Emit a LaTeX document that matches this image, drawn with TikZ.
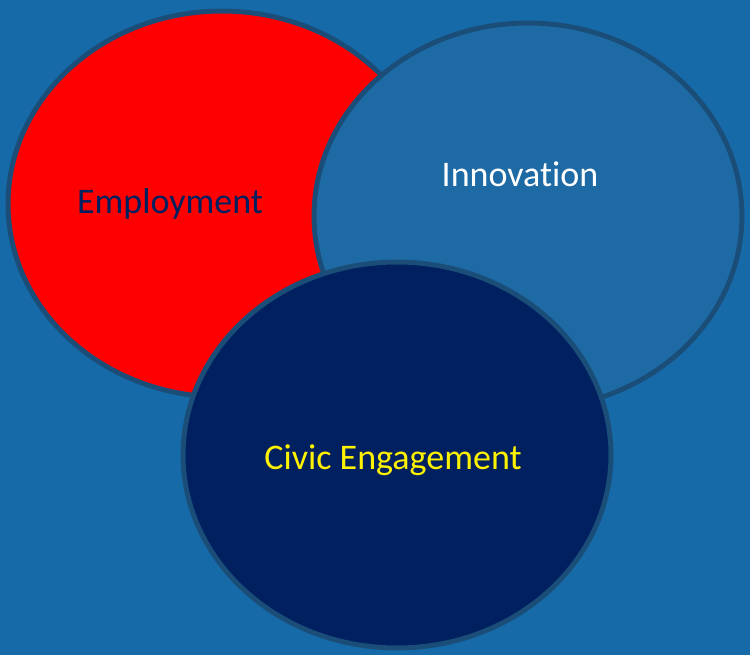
\documentclass[tikz,border=0pt]{standalone}
\usepackage{fontspec}
\setmainfont{Carlito}[Ligatures=NoCommon]
\usetikzlibrary{shapes.geometric}
\definecolor{slideblue}{RGB}{23, 106, 168}
\definecolor{innoblue}{RGB}{30, 106, 164}
\definecolor{rimblue}{RGB}{26, 78, 120}
\definecolor{navyblue}{RGB}{0, 32, 96}
\definecolor{brightred}{RGB}{255, 0, 0}

\begin{document}
\begin{tikzpicture}[x=0.02cm, y=-0.02cm,
    bubble/.style={draw=rimblue, line width=2.8pt, ellipse, inner sep=0pt,
      minimum width=8.56cm, minimum height=7.72cm},
    caption/.style={anchor=base, font=\fontsize{20.5}{24}\selectfont}]
    \fill[slideblue] (0,0) rectangle (750,655);
    \useasboundingbox (0,0) rectangle (750,655);

    \node[bubble, fill=brightred] (employ) at (222,204) {};
    \node[bubble, fill=innoblue] (innov) at (528,216) {};
    \node[bubble, fill=navyblue] (civic) at (397,455) {};

    \node[caption, text=navyblue] (employtext) at (170,214) {Employment};
    \node[caption, text=white] (innovtext) at (520,187) {Innovation};
    \node[caption, text=yellow] (civictext) at (393,469) {Civic Engagement};
\end{tikzpicture}
\end{document}
